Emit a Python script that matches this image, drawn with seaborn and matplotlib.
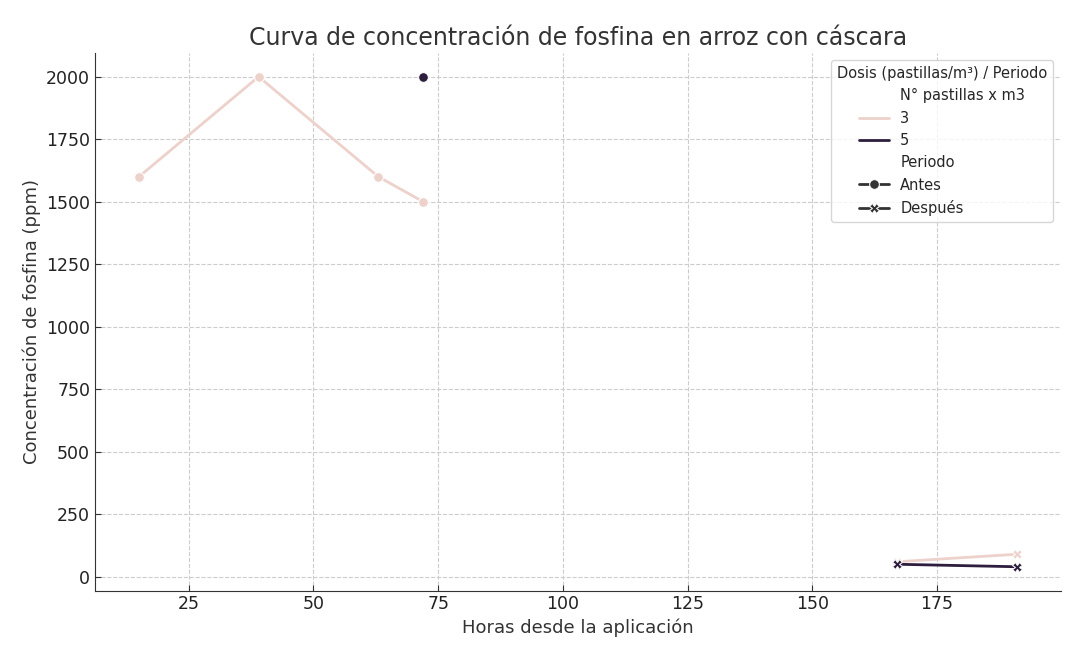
import matplotlib
matplotlib.use("Agg")
import matplotlib.pyplot as plt
import pandas as pd
import seaborn as sns

# datos
horas = [15, 39, 63, 72, 72, 167, 191, 167, 191]
concentracion = [1600, 2000, 1600, 1500, 2000, 60, 90, 50, 40]
pastillas = [3, 3, 3, 3, 5, 3, 3, 5, 5]
periodo = ["Antes", "Antes", "Antes", "Antes", "Antes", "Después", "Después", "Después", "Después"]

df = pd.DataFrame({
    "Horas": horas,
    "Concentracion": concentracion,
    "N° pastillas x m3": pastillas,
    "Periodo": periodo,
})

sns.set_style("whitegrid", {"grid.linestyle": "--", "grid.color": "#cccccc",
                            "axes.edgecolor": "#333333"})
fig = plt.figure(figsize=(10.8, 6.62), dpi=100)
ax = fig.add_subplot(111)
sns.lineplot(ax=ax, data=df, x="Horas", y="Concentracion", hue="N° pastillas x m3",
             style="Periodo", markers=True, dashes=False, linewidth=2, markersize=7)
ax.set_title("Curva de concentración de fosfina en arroz con cáscara", fontsize=17, color="#333333")
ax.set_xlabel("Horas desde la aplicación", fontsize=13, color="#333333")
ax.set_ylabel("Concentración de fosfina (ppm)", fontsize=13, color="#333333")
ax.tick_params(labelsize=12.5, left=True, bottom=True, direction="in", length=4,
               color="#333333", labelcolor="#222222")
ax.set_ylim(-55, 2095)
sns.despine(ax=ax)
ax.legend(title="Dosis (pastillas/m³) / Periodo", loc="upper right", fontsize=10.5, title_fontsize=10.5)
fig.subplots_adjust(left=0.088, right=0.982, top=0.92, bottom=0.108)
plt.savefig("out.png")
